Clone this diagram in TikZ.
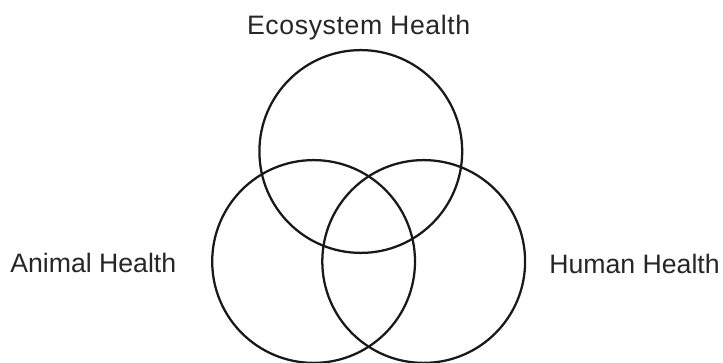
\documentclass[tikz,border=0pt]{standalone}
\usepackage{fontspec}
\setmainfont{Liberation Sans}
\newfontfamily\ecofont[LetterSpace=2.2]{Liberation Sans}
\begin{document}
\begin{tikzpicture}[x=0.75pt,y=-0.75pt,
  ring/.style={draw=black!90, line width=1.7pt},
  lbl/.style={inner sep=0pt, font=\fontsize{20}{24}\selectfont, text=black!85}]
\useasboundingbox (0,0) rectangle (723,363);
\draw[ring] (360.8,151.5) circle[radius=101.4];
\draw[ring] (313.6,261.5) circle[radius=101.4];
\draw[ring] (423.7,261.5) circle[radius=101.4];
\node[lbl, anchor=base] (eco) at (358.7,35) {\ecofont Ecosystem Health};
\node[lbl, anchor=base west] (ani) at (10,272) {Animal Health};
\node[lbl, anchor=base west] (hum) at (549,273) {Human Health};
\end{tikzpicture}
\end{document}
